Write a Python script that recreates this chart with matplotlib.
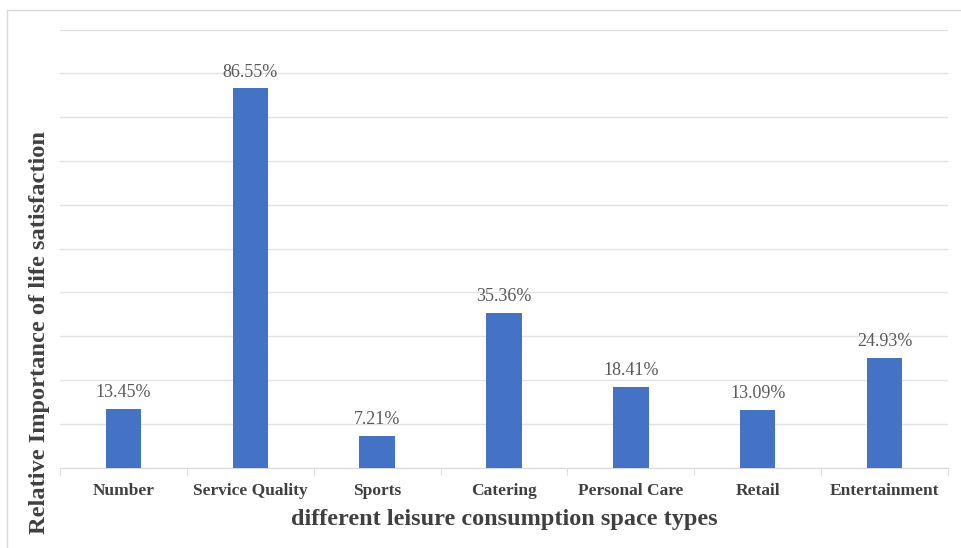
import matplotlib.pyplot as plt
from matplotlib.patches import Rectangle

categories = ["Number", "Service Quality", "Sports", "Catering",
              "Personal Care", "Retail", "Entertainment"]
values = [13.45, 86.55, 7.21, 35.36, 18.41, 13.09, 24.93]
labels = ["13.45%", "86.55%", "7.21%", "35.36%", "18.41%", "13.09%", "24.93%"]

W, H = 961, 548
fig = plt.figure(figsize=(W / 100, H / 100), dpi=100)

# outer chart frame (cropped on right/bottom like the original)
fig.patches.append(Rectangle((7 / W, -0.1), 1.2, 1 - 10 / H + 0.1,
                             transform=fig.transFigure, fill=False,
                             edgecolor="#d9d9d9", lw=1))

ax = fig.add_axes([60 / W, (H - 467.5) / H, 888 / W, (467.5 - 29.6) / H])

x = range(len(categories))
ax.bar(x, values, width=0.28, color="#4472C4", zorder=3)

for i, v in enumerate(values):
    ax.text(i, v + 1.8, labels[i], ha="center", va="bottom",
            fontsize=13, family="Liberation Serif", color="#595959")

ax.set_xlim(-0.5, len(categories) - 0.5)
ax.set_ylim(0, 100)
ax.set_yticks(range(0, 101, 10))
ax.set_yticklabels([])
ax.tick_params(axis="y", length=0)
ax.grid(axis="y", color="#e3e3e3", lw=1, zorder=0)

ax.set_xticks(x)
ax.set_xticklabels(categories, fontsize=12.5, fontweight="bold",
                   family="Liberation Serif", color="#404040")
ax.tick_params(axis="x", length=0, pad=11)
# category boundary ticks
ax.set_xticks([i - 0.5 for i in range(len(categories) + 1)], minor=True)
ax.tick_params(axis="x", which="minor", length=5, color="#d9d9d9")

for s in ["top", "right", "left"]:
    ax.spines[s].set_visible(False)
ax.spines["bottom"].set_color("#d9d9d9")

fig.text(504 / W, 1 - 519 / H, "different leisure consumption space types",
         ha="center", va="center", fontsize=17.5, fontweight="bold",
         family="Liberation Serif", color="#404040")
fig.text(40 / W, 1 - 333 / H, "Relative Importance of life satisfaction",
         ha="center", va="center", rotation=90, fontsize=17.6,
         fontweight="bold", family="Liberation Serif", color="#404040")

fig.savefig("out.png", dpi=100)
